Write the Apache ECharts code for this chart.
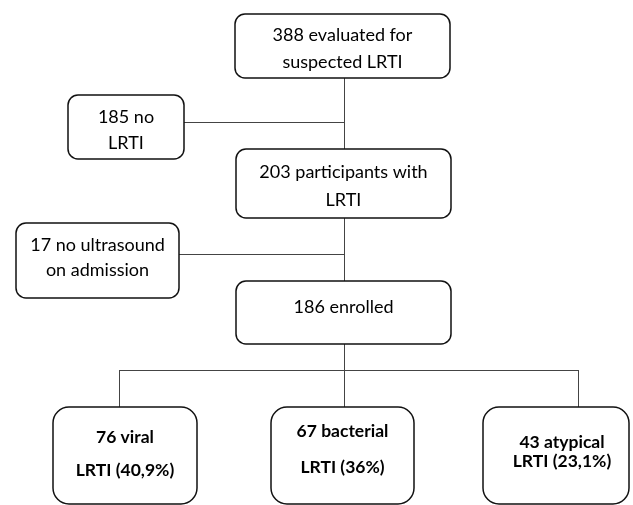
<!DOCTYPE html>
<html>
<head>
<meta charset="utf-8">
<script src="https://cdn.jsdelivr.net/npm/echarts@6/dist/echarts.min.js"></script>
<style>
  html, body { margin: 0; padding: 0; background: #fff; }
  #flow { width: 633px; height: 505px; }
</style>
</head>
<body>
<div id="flow"></div>
<script>
// flow counts
const stepCounts = [388, 185, 203, 17, 186];
const stepText = [
  ['{n} evaluated for', 'suspected LRTI'],
  ['{n} no', 'LRTI'],
  ['{n} participants with', 'LRTI'],
  ['{n} no ultrasound', 'on admission'],
  ['{n} enrolled']
];
const groupNames = ['viral', 'bacterial', 'atypical'];
const groupCounts = [76, 67, 43];
const groupShares = ['40,9%', '36%', '23,1%'];

// layout of the boxes, in canvas units (x0, y0, x1, y1), radius, text line y, text x shift
const stepBoxes = [
  { box: [235, 14, 450, 78], r: 10, lineY: [35, 62] },
  { box: [68, 95, 184, 159], r: 10, lineY: [117, 143] },
  { box: [236, 149, 451, 218], r: 10, lineY: [172, 200] },
  { box: [16, 223, 179, 298], r: 10, lineY: [245, 270] },
  { box: [236, 281, 451, 344], r: 10, lineY: [307] }
];
const groupBoxes = [
  { box: [53, 407, 197, 504], r: 16, lineY: [437, 470], dx: 0 },
  { box: [271, 407, 414, 504], r: 16, lineY: [431, 467], dx: 0 },
  { box: [483, 407, 629, 504], r: 16, lineY: [442, 461], dx: 6 }
];
const connectors = [
  [[344, 78], [344, 149]],
  [[184, 122], [344, 122]],
  [[344, 218], [344, 281]],
  [[179, 254], [344, 254]],
  [[344, 344], [344, 407]],
  [[119, 370], [578, 370]],
  [[119, 370], [119, 407]],
  [[578, 370], [578, 407]]
];

const boxes = [];
stepCounts.forEach(function (n, i) {
  boxes.push({
    box: stepBoxes[i].box, r: stepBoxes[i].r, lineY: stepBoxes[i].lineY, dx: 0,
    lines: stepText[i].map(function (t) { return t.replace('{n}', n); }),
    font: 'normal 18px Lato'
  });
});
groupNames.forEach(function (g, i) {
  boxes.push({
    box: groupBoxes[i].box, r: groupBoxes[i].r, lineY: groupBoxes[i].lineY, dx: groupBoxes[i].dx,
    lines: [groupCounts[i] + ' ' + g, 'LRTI (' + groupShares[i] + ')'],
    font: 'bold 17.5px Lato'
  });
});

const chart = echarts.init(document.getElementById('flow'));

chart.setOption({
  backgroundColor: '#fff',
  animation: false,
  grid: { left: 0, right: 0, top: 0, bottom: 0 },
  xAxis: { type: 'value', min: 0, max: 633, show: false },
  yAxis: { type: 'value', min: 0, max: 505, inverse: true, show: false },
  series: [
    {
      type: 'lines',
      coordinateSystem: 'cartesian2d',
      z: 1,
      lineStyle: { color: '#444', width: 1, opacity: 1 },
      data: connectors.map(function (c) { return { coords: c }; })
    },
    {
      type: 'custom',
      coordinateSystem: 'cartesian2d',
      z: 2,
      data: boxes.map(function (b) { return b.box; }),
      renderItem: function (params, api) {
        const b = boxes[params.dataIndex];
        const p0 = api.coord([api.value(0), api.value(1)]);
        const p1 = api.coord([api.value(2), api.value(3)]);
        const cx = (p0[0] + p1[0]) / 2 + b.dx;
        const children = [{
          type: 'rect',
          shape: { x: p0[0], y: p0[1], width: p1[0] - p0[0], height: p1[1] - p0[1], r: b.r },
          style: { fill: '#fff', stroke: '#111', lineWidth: 1.5 }
        }];
        b.lines.forEach(function (t, k) {
          children.push({
            type: 'text',
            x: cx,
            y: api.coord([0, b.lineY[k]])[1],
            style: { text: t, align: 'center', verticalAlign: 'middle', font: b.font, fill: '#000' }
          });
        });
        return { type: 'group', children: children };
      }
    }
  ]
});
</script>
</body>
</html>
